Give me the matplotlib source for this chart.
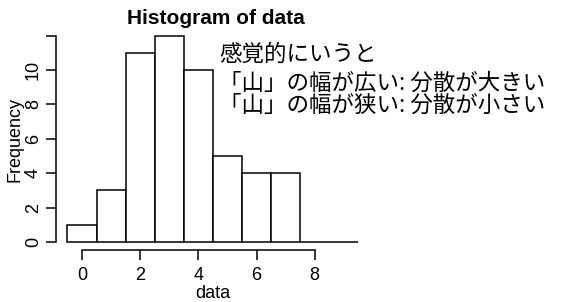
import matplotlib
matplotlib.use("Agg")
import matplotlib.pyplot as plt

# data
bin_left = [-0.5, 0.5, 1.5, 2.5, 3.5, 4.5, 5.5, 6.5, 7.5, 8.5]
counts = [1, 3, 11, 12, 10, 5, 4, 4, 0, 0]
xticks = [0, 2, 4, 6, 8]
yticks = [0, 2, 4, 6, 8, 10, 12]
ytick_labels = ["0", "2", "4", "6", "8", "10", ""]
title = "Histogram of data"
xlabel = "data"
ylabel = "Frequency"
notes = ["感覚的にいうと", "「山」の幅が広い: 分散が大きい", "「山」の幅が狭い: 分散が小さい"]

W, H = 561, 302
fig = plt.figure(figsize=(W / 100, H / 100), dpi=100)
L, R, B, T = 55.8, 370.0, 250.3, 27.3
ax = fig.add_axes([L / W, 1 - B / H, (R - L) / W, (B - T) / H])
ax.set_xlim(-0.9, 9.9)
ax.set_ylim(-0.48, 12.48)

ax.bar(bin_left, counts, width=1.0, align="edge", facecolor="white",
       edgecolor="black", linewidth=1.1)

lat = ["Liberation Sans", "DejaVu Sans"]
for s in ["top", "right"]:
    ax.spines[s].set_visible(False)
ax.spines["left"].set_bounds(0, 12)
ax.spines["bottom"].set_bounds(0, 8)
ax.spines["left"].set_linewidth(1.1)
ax.spines["bottom"].set_linewidth(1.1)
ax.set_xticks(xticks)
ax.set_xticklabels([str(t) for t in xticks], family=lat, fontsize=13)
ax.set_yticks(yticks)
ax.set_yticklabels(ytick_labels, family=lat, fontsize=13, rotation=90, va="center")
ax.tick_params(length=7, width=1.1)
ax.tick_params(axis="x", pad=5)
ax.tick_params(axis="y", pad=3)

fig.text(216 / W, 1 - 18 / H, title, ha="center", va="center",
         family=lat, fontsize=15, fontweight="bold")
fig.text((L + R) / 2 / W, 1 - 293 / H, xlabel, ha="center", va="center",
         family=lat, fontsize=13)
fig.text(15 / W, 1 - 139 / H, ylabel, ha="center", va="center", rotation=90,
         family=lat, fontsize=13)

jp = ["Noto Sans CJK JP", "DejaVu Sans"]
ys = [54.5, 83, 105]
xs = [219, 219, 219]
for txt, x, y in zip(notes, xs, ys):
    fig.text(x / W, 1 - y / H, txt, ha="left", va="center", family=jp,
             fontsize=16.2)

fig.savefig("out.png", dpi=100)
